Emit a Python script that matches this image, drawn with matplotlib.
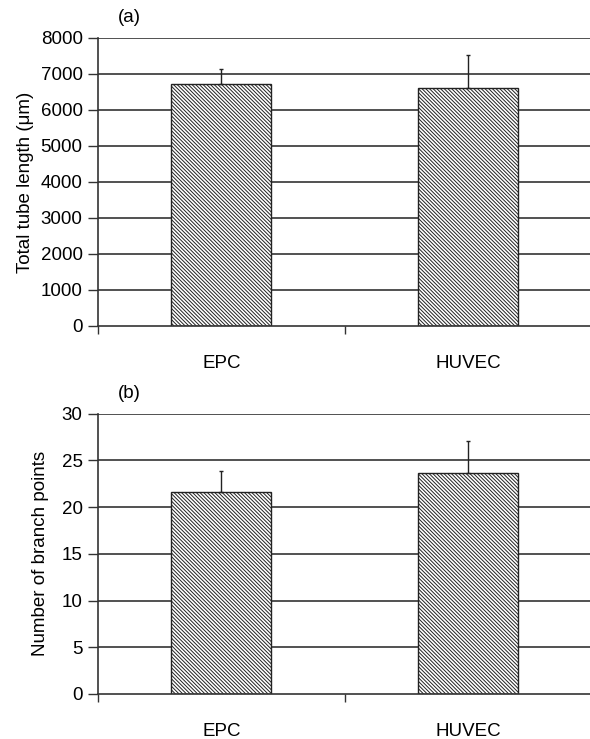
import matplotlib.pyplot as plt
import numpy as np

plt.rcParams['font.family'] = ['Liberation Sans', 'DejaVu Sans']
plt.rcParams['hatch.linewidth'] = 0.7
plt.rcParams['hatch.color'] = '#333333'

# data
cells = ['EPC', 'HUVEC']
tube_len = [6715, 6605]
tube_err = [425, 930]
branch_pts = [21.6, 23.65]
branch_err = [2.25, 3.45]

fs = 13.5
fig = plt.figure(figsize=(5.9, 7.39), dpi=100)
ax1 = fig.add_axes([0.166, 0.5589, 0.837, 0.3897])
ax2 = fig.add_axes([0.166, 0.0609, 0.837, 0.3793])


def draw(ax, vals, errs, ymax, step, ylabel, tag, labelpad):
    x = np.arange(len(cells))
    ax.set_axisbelow(True)
    for y in np.arange(step, ymax + step / 2, step):
        ax.axhline(y, color='#333333', lw=1.2, zorder=0)
    ax.bar(x, vals, width=0.405, color='white', edgecolor='#222222',
           hatch='\\' * 9, lw=1.0, zorder=2)
    ax.errorbar(x, vals, yerr=[np.zeros(len(errs)), errs], fmt='none',
                ecolor='#222222', elinewidth=1.0, capsize=1.5, capthick=1.0, zorder=3)
    ax.set_xlim(-0.5, 1.5)
    ax.set_ylim(0, ymax)
    ax.set_yticks(np.arange(0, ymax + step / 2, step))
    ax.set_xticks(x)
    ax.set_xticklabels(cells)
    ax.set_xticks([-0.5, 0.5, 1.5], minor=True)
    ax.tick_params(axis='x', which='major', length=0, pad=21, labelsize=fs)
    ax.tick_params(axis='x', which='minor', length=6, width=1.0, color='#333333')
    ax.tick_params(axis='y', length=7, width=1.0, color='#333333', labelsize=fs, pad=4)
    for s in ['top', 'right']:
        ax.spines[s].set_visible(False)
    for s in ['left', 'bottom']:
        ax.spines[s].set_color('#333333')
        ax.spines[s].set_linewidth(1.2)
    ax.set_ylabel(ylabel, fontsize=fs, labelpad=labelpad)
    ax.text(0.04, 1.04, tag, transform=ax.transAxes, fontsize=fs, va='bottom')


draw(ax1, tube_len, tube_err, 8000, 1000, 'Total tube length (μm)', '(a)', 5)
draw(ax2, branch_pts, branch_err, 30, 5, 'Number of branch points', '(b)', 9)

fig.savefig('out.png', dpi=100)
